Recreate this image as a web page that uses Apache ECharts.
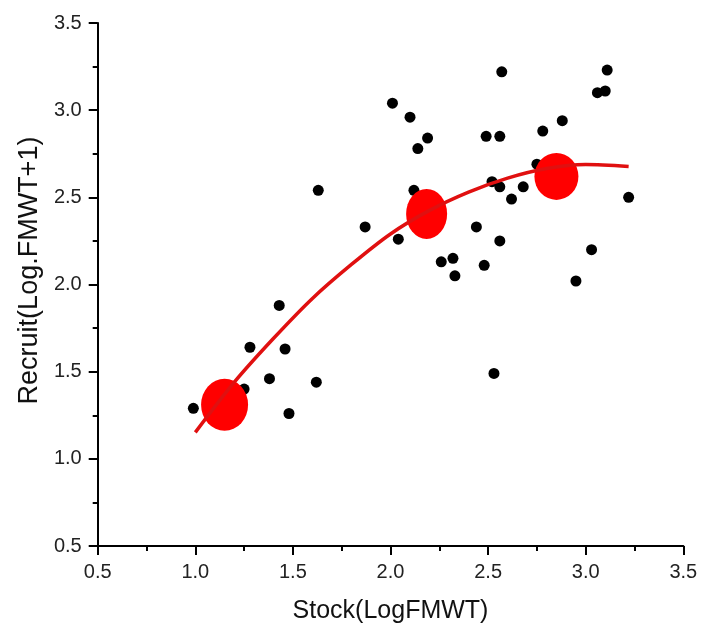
<!DOCTYPE html>
<html>
<head>
<meta charset="utf-8">
<script src="https://cdn.jsdelivr.net/npm/echarts@6/dist/echarts.min.js"></script>
<style>html,body{margin:0;padding:0;background:#fff;}#c{width:718px;height:634px;}</style>
</head>
<body>
<div id="c"></div>
<script>
// Observed points
const stock = [0.99,1.25,1.28,1.38,1.43,1.46,1.48,1.62,1.63,1.87,2.01,2.04,2.10,2.14,2.19,2.12,2.26,2.32,2.33,2.44,2.49,2.56,2.57,2.48,2.52,2.56,2.56,2.62,2.68,2.75,2.78,2.88,2.95,3.03,3.06,3.10,3.11,3.22,2.53];
const recruit = [1.29,1.40,1.64,1.46,1.88,1.63,1.26,1.44,2.54,2.33,3.04,2.26,2.96,2.78,2.84,2.54,2.13,2.15,2.05,2.33,2.85,2.85,3.22,2.11,2.59,2.56,2.25,2.49,2.56,2.69,2.88,2.94,2.02,2.20,3.10,3.11,3.23,2.50,1.49];
// Fitted curve
const curveX = [1.00,1.20,1.40,1.60,1.80,2.00,2.20,2.40,2.60,2.80,3.00,3.22];
const curveY = [1.152,1.44,1.69,1.92,2.115,2.29,2.425,2.53,2.61,2.665,2.688,2.677];
// Large red markers
const meanX = [1.15,2.185,2.85];
const meanY = [1.31,2.405,2.62];
const meanSize = [[47,52],[41,50],[44,47]];
// Ticks
const axisMin = 0.5, axisMax = 3.5, axisStep = 0.5;

const chart = echarts.init(document.getElementById('c'), null, {renderer:'canvas'});
const font = '"Liberation Sans", Arial, Helvetica, sans-serif';
function axis(name, gap, nameSize, pad) {
  return {
    type:'value', min:axisMin, max:axisMax, interval:axisStep,
    name:name, nameLocation:'middle', nameGap:gap,
    nameTextStyle:{fontFamily:font, fontSize:nameSize, color:'#111', padding:pad},
    axisLine:{show:true, onZero:false, lineStyle:{color:'#000', width:2}},
    axisTick:{show:true, inside:false, length:9, lineStyle:{color:'#000', width:2}},
    minorTick:{show:true, splitNumber:2, length:5, lineStyle:{color:'#000', width:2}},
    splitLine:{show:false},
    axisLabel:{fontFamily:font, fontSize:20, color:'#222', margin:16,
      formatter:v=>v.toFixed(1)}
  };
}
chart.setOption({
  backgroundColor:'#fff',
  animation:false,
  grid:{left:97.7, right:34.7, top:23, bottom:88, outerBoundsMode:'none'},
  xAxis:axis('Stock(LogFMWT)', 53, 25, 0),
  yAxis:axis('Recruit(Log.FMWT+1)', 48, 27, [0,0,0,28]),
  series:[
    {type:'scatter', symbol:'circle', symbolSize:11,
     itemStyle:{color:'#000', opacity:1},
     data:stock.map((x,i)=>[x,recruit[i]])},
    {type:'line', smooth:0.3, showSymbol:false, symbol:'none',
     lineStyle:{color:'#e01010', width:3.5},
     data:curveX.map((x,i)=>[x,curveY[i]])},
    {type:'scatter', symbol:'circle',
     itemStyle:{color:'#ff0000', opacity:1},
     data:meanX.map((x,i)=>({value:[x,meanY[i]], symbolSize:meanSize[i]}))}
  ]
});
</script>
</body>
</html>
